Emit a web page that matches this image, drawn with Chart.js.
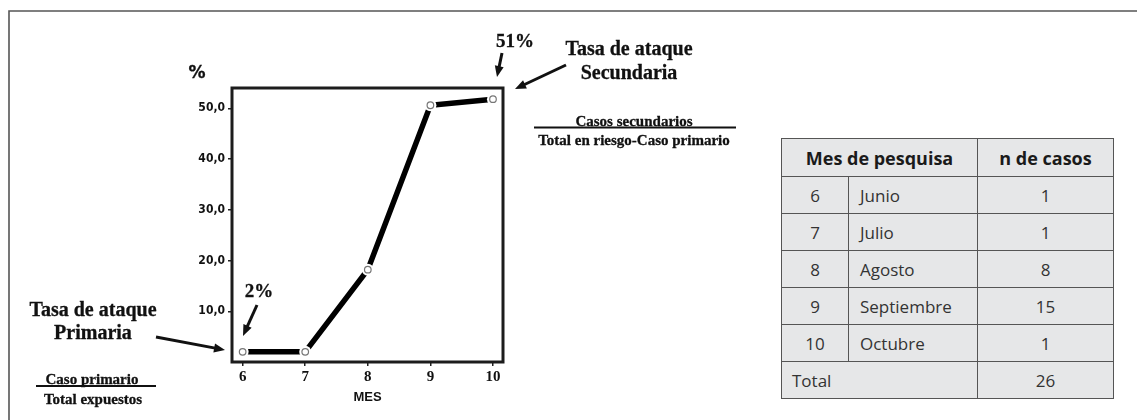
<!DOCTYPE html>
<html>
<head>
<meta charset="utf-8">
<script src="https://cdn.jsdelivr.net/npm/chart.js@4/dist/chart.umd.min.js"></script>
<style>
  html, body { margin:0; padding:0; background:#fff; }
  #wrap { position:relative; width:1137px; height:420px; overflow:hidden; }
  #c { position:absolute; left:0; top:0; }
  #ov { position:absolute; left:0; top:0; pointer-events:none; }
  .t { position:absolute; transform:translate(-50%,-50%); white-space:nowrap; font-family:"Liberation Serif","Times New Roman",serif; font-weight:bold; color:#111; text-align:center; -webkit-text-stroke:0.3px #111; }
  table { position:absolute; left:781px; top:138px; border-collapse:collapse; background:#e6e7e8; font-family:"Open Sans","Noto Sans",sans-serif; color:#333; }
  td, th { border:1.5px solid #555; padding:0; height:36px; font-size:17px; font-weight:normal; }
  th { font-weight:bold; font-size:18px; color:#1a1a1a; height:37px; }
  .c1 { width:66px; text-align:center; }
  .c2 { width:117px; text-align:left; padding-left:11px; }
  .c3 { width:135px; text-align:center; }
</style>
</head>
<body>
<div id="wrap">
  <canvas id="c" width="1137" height="420"></canvas>
  <svg id="ov" width="1137" height="420"></svg>
  <div class="t" style="left:197px;top:72px;font-family:'DejaVu Sans',sans-serif;font-size:17px;">%</div>
  <div class="t" style="left:93px;top:321px;font-size:20px;line-height:23px;">Tasa de ataque<br>Primaria</div>
  <div class="t" style="left:259px;top:291px;font-size:19px;">2%</div>
  <div class="t" style="left:515px;top:41px;font-size:19px;">51%</div>
  <div class="t" style="left:629px;top:60px;font-size:20px;line-height:24px;">Tasa de ataque<br>Secundaria</div>
  <div class="t" style="left:634px;top:121px;font-size:15px;">Casos secundarios</div>
  <div class="t" style="left:634px;top:140px;font-size:15px;">Total en riesgo-Caso primario</div>
  <div class="t" style="left:92px;top:379px;font-size:15px;">Caso primario</div>
  <div class="t" style="left:93px;top:399px;font-size:15px;">Total expuestos</div>
  <table id="tbl"></table>
</div>
<script>
// ---- data ----
const meses = [6, 7, 8, 9, 10];
const tasaAtaque = [2.0, 2.0, 18.2, 50.6, 51.8];
const yTicks = [10, 20, 30, 40, 50];
const xTicks = [6, 7, 8, 9, 10];
const nombresMes = ["Junio", "Julio", "Agosto", "Septiembre", "Octubre"];
const nCasos = [1, 1, 8, 15, 1];
const totalCasos = 26;

// ---- table ----
(function(){
  const t = document.getElementById('tbl');
  let h = '<tr><th colspan="2">Mes de pesquisa</th><th class="c3">n de casos</th></tr>';
  for (let i = 0; i < meses.length; i++) {
    h += '<tr><td class="c1">' + meses[i] + '</td><td class="c2">' + nombresMes[i] + '</td><td class="c3">' + nCasos[i] + '</td></tr>';
  }
  h += '<tr><td colspan="2" style="text-align:left;padding-left:10px;">Total</td><td class="c3">' + totalCasos + '</td></tr>';
  t.innerHTML = h;
})();

// ---- overlay: frame, arrows, fraction lines ----
(function(){
  const svg = document.getElementById('ov');
  const NS = 'http://www.w3.org/2000/svg';
  function el(name, attrs){ const e = document.createElementNS(NS, name); for (const k in attrs) e.setAttribute(k, attrs[k]); svg.appendChild(e); return e; }
  el('polyline', {points:'9,420 9,11 1137,11', fill:'none', stroke:'#555', 'stroke-width':'1.6'});
  el('line', {x1:36, y1:386, x2:156, y2:386, stroke:'#111', 'stroke-width':'2'});
  el('line', {x1:534, y1:127.5, x2:736, y2:127.5, stroke:'#111', 'stroke-width':'2'});
  function arrow(x1,y1,x2,y2){
    const dx = x2-x1, dy = y2-y1, L = Math.hypot(dx,dy), ux = dx/L, uy = dy/L;
    const hl = 11, hw = 4.5;
    const bx = x2 - ux*hl, by = y2 - uy*hl;
    el('line', {x1:x1, y1:y1, x2:bx+ux*1, y2:by+uy*1, stroke:'#111', 'stroke-width':'3'});
    el('polygon', {points: x2+','+y2+' '+(bx - uy*hw)+','+(by + ux*hw)+' '+(bx + uy*hw)+','+(by - ux*hw), fill:'#111'});
  }
  arrow(156,337,225,350);
  arrow(257,305,243,336);
  arrow(502,53,497,77);
  arrow(566,65,515,89);
})();

// ---- chart ----
const pts = meses.map((m,i) => ({x:m, y:tasaAtaque[i]}));
const boxPlugin = {
  id: 'box',
  afterDraw(chart){
    const {ctx, chartArea:a} = chart;
    ctx.save();
    ctx.strokeStyle = '#1c1c1c';
    ctx.lineWidth = 3;
    ctx.strokeRect(a.left, a.top, a.right - a.left, a.bottom - a.top);
    ctx.restore();
  }
};
new Chart(document.getElementById('c'), {
  type: 'line',
  data: {
    datasets: [
      { data: pts, order: 1, showLine: false, pointRadius: 3.3, pointBorderWidth: 1.2, pointBorderColor: '#777', pointBackgroundColor: '#fff' },
      { data: pts, order: 2, showLine: false, pointRadius: 6, pointBorderWidth: 0, pointBackgroundColor: '#fff', pointBorderColor: '#fff' },
      { data: pts, order: 3, borderColor: '#000', borderWidth: 5.5, pointRadius: 0, tension: 0, borderCapStyle: 'butt' }
    ]
  },
  options: {
    responsive: false,
    animation: false,
    devicePixelRatio: 1,
    layout: { padding: { left: 0, top: 88, right: 634, bottom: 0 } },
    plugins: { legend: { display: false }, tooltip: { enabled: false } },
    scales: {
      x: {
        type: 'linear', position: 'bottom', min: 5.83, max: 10.16,
        afterBuildTicks: s => { s.ticks = xTicks.map(v => ({value: v})); },
        afterFit: s => { s.height = 58; },
        border: { display: false },
        grid: { display: true, drawOnChartArea: false, drawTicks: true, tickLength: 4, color: '#222', lineWidth: 1.5 },
        ticks: { color: '#111', padding: 2, maxRotation: 0, font: { family: 'Liberation Serif', weight: 'bold', size: 15 } },
        title: { display: true, text: 'MES', color: '#111', font: { family: 'Liberation Sans', weight: 'bold', size: 13 }, padding: { top: 0, bottom: 15 } }
      },
      y: {
        type: 'linear', min: 0, max: 54,
        afterBuildTicks: s => { s.ticks = yTicks.map(v => ({value: v})); },
        afterFit: s => { s.width = 232; },
        border: { display: false },
        grid: { display: true, drawOnChartArea: false, drawTicks: true, tickLength: 4, color: '#222', lineWidth: 1.5 },
        ticks: { color: '#111', padding: 3, font: { family: "'DejaVu Sans Condensed', 'DejaVu Sans', sans-serif", weight: 'bold', size: 12 },
                 callback: v => v.toFixed(1).replace('.', ',') }
      }
    }
  },
  plugins: [boxPlugin]
});
</script>
</body>
</html>
